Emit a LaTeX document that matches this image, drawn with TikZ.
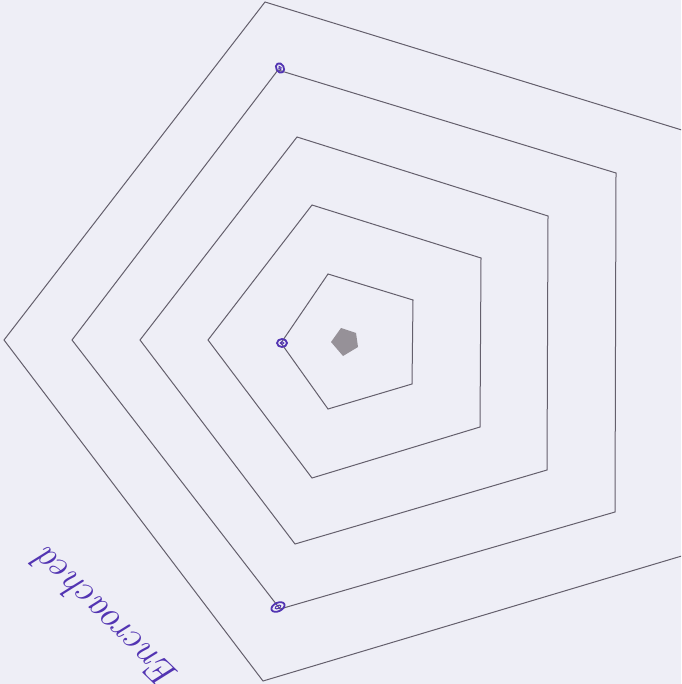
\documentclass[tikz,border=0pt]{standalone}
\definecolor{paper}{RGB}{238,238,246}
\definecolor{pencil}{RGB}{100,95,108}
\definecolor{ink}{RGB}{82,52,178}
\definecolor{centregray}{RGB}{150,145,152}
\tikzset{
  ring/.style={draw=pencil, line width=1pt, line join=miter},
  dot/.style={draw=ink, line width=1.8pt},
  hand/.style={text=ink, font=\fontsize{38}{38}\selectfont\itshape, inner sep=0pt}
}
\begin{document}
\begin{tikzpicture}[x=1pt,y=-1pt]
\fill[paper] (0,0) rectangle (681,684);
\useasboundingbox (0,0) rectangle (681,684);
\clip (0,0) rectangle (681,684);
% nested pentagons
\draw[ring] (265,2) -- (685,131) -- (685,555) -- (263,681) -- (4,340) -- cycle;
\draw[ring] (278,70) -- (616,173) -- (615,512) -- (280,609) -- (72,340) -- cycle;
\draw[ring] (297,137) -- (548,216) -- (547,470) -- (295,544) -- (140,340) -- cycle;
\draw[ring] (312,205) -- (481,258) -- (480,427) -- (312,478) -- (208,340) -- cycle;
\draw[ring] (328,274) -- (413,300) -- (412,384) -- (328,409) -- (281,343) -- cycle;
% shaded centre
\fill[centregray] (341,328) -- (356,333) -- (358,347) -- (343,356) -- (331,342) -- cycle;
% ink marks
\draw[dot] (280,68) ellipse [x radius=5, y radius=3.8, rotate=-60];
\draw[dot, line width=1pt] (280,68) ellipse [x radius=1.8, y radius=1.2, rotate=-60];
\draw[dot] (282,343) ellipse [x radius=5, y radius=4];
\draw[dot, line width=1pt] (282,343) ellipse [x radius=1.8, y radius=1.3];
\draw[dot] (278,607) ellipse [x radius=7, y radius=4.2, rotate=25];
\draw[dot, line width=1pt] (278,607) ellipse [x radius=3, y radius=1.5, rotate=25];
% handwriting
\node[hand, anchor=base east, rotate=136] (word) at (48,546) {Encroached};
\end{tikzpicture}
\end{document}
